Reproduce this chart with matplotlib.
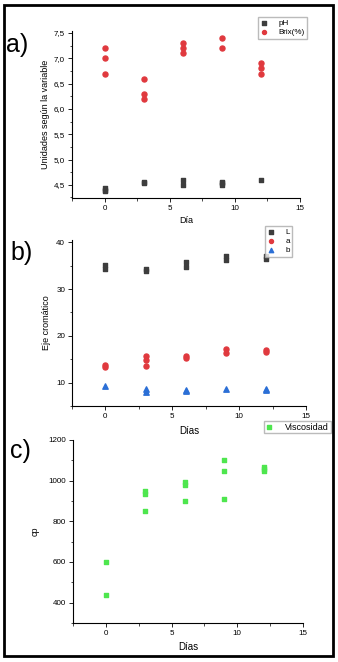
import matplotlib.pyplot as plt
from matplotlib.patches import Rectangle
from matplotlib.ticker import MultipleLocator, FuncFormatter

plt.rcParams['font.family'] = ['Liberation Sans', 'DejaVu Sans']

# datos (día, valor)
dias_ph = [0, 0, 0, 3, 3, 6, 6, 9, 9, 9, 12]
ph = [4.37, 4.40, 4.43, 4.54, 4.55, 4.60, 4.50, 4.50, 4.53, 4.56, 4.60]
dias_brix = [0, 0, 0, 3, 3, 3, 6, 6, 6, 9, 9, 12, 12, 12]
brix = [7.2, 7.0, 6.7, 6.6, 6.3, 6.2, 7.3, 7.2, 7.1, 7.4, 7.2, 6.9, 6.8, 6.7]

dias_L = [0, 0, 3, 3, 6, 6, 9, 9, 12, 12]
L = [35.2, 34.4, 34.3, 33.8, 35.8, 34.7, 37.0, 36.3, 37.0, 36.5]
dias_a = [0, 0, 3, 3, 3, 6, 6, 9, 9, 12, 12]
a = [13.8, 13.4, 15.6, 14.9, 13.6, 15.6, 15.2, 17.2, 16.4, 17.0, 16.5]
dias_b = [0, 3, 3, 6, 6, 9, 12, 12]
b = [9.3, 8.6, 8.1, 8.4, 8.2, 8.6, 8.6, 8.4]

dias_visc = [0, 0, 3, 3, 3, 6, 6, 6, 9, 9, 9, 12, 12, 12]
visc = [600, 439, 950, 934, 852, 991, 978, 901, 1101, 1050, 912, 1069, 1055, 1049]

W, H = 338, 662
fig = plt.figure(figsize=(W / 100, H / 100), dpi=100)

def ejes(x0, y0, x1, y1):
    # coordenadas en pixeles (arriba-izquierda)
    return fig.add_axes([x0 / W, 1 - y1 / H, (x1 - x0) / W, (y1 - y0) / H])

def estilo(ax):
    ax.spines['top'].set_visible(False)
    ax.spines['right'].set_visible(False)
    ax.spines['left'].set_linewidth(0.8)
    ax.spines['bottom'].set_linewidth(0.8)
    ax.set_xlim(-2.5, 15)
    ax.xaxis.set_major_locator(MultipleLocator(5))
    ax.xaxis.set_minor_locator(MultipleLocator(2.5))
    ax.tick_params(which='major', direction='out', length=3, width=0.6, labelsize=5.8, pad=2)
    ax.tick_params(which='minor', direction='out', length=1.8, width=0.5)

coma = FuncFormatter(lambda v, p: f'{v:.1f}'.replace('.', ','))

gris = '#3d3d3d'
rojo = '#e0393e'
azul = '#2b6fd6'
verde = '#4ee64e'

# a)
ax1 = ejes(72, 31, 300, 198)
estilo(ax1)
ax1.scatter(dias_ph, ph, marker='s', s=11, color=gris, label='pH', zorder=3)
ax1.scatter(dias_brix, brix, marker='o', s=13, color=rojo, label='Brix(%)', zorder=3)
ax1.set_ylim(4.24, 7.54)
ax1.yaxis.set_major_locator(MultipleLocator(0.5))
ax1.yaxis.set_minor_locator(MultipleLocator(0.25))
ax1.yaxis.set_major_formatter(coma)
ax1.set_xlabel('Día', fontsize=6.5, labelpad=3)
ax1.set_ylabel('Unidades según la variable', fontsize=6.5, labelpad=3)
ax1.legend(loc='upper left', bbox_to_anchor=(182 / 228, 1.11), fontsize=5.8, frameon=True,
           fancybox=False, edgecolor='#aaaaaa', handletextpad=1.2, borderpad=0.3,
           labelspacing=0.25, markerscale=0.8, handlelength=1.0)

# b)
ax2 = ejes(72, 240, 306, 406)
estilo(ax2)
ax2.scatter(dias_L, L, marker='s', s=11, color=gris, label='L', zorder=3)
ax2.scatter(dias_a, a, marker='o', s=13, color=rojo, label='a', zorder=3)
ax2.scatter(dias_b, b, marker='^', s=15, color=azul, label='b', zorder=3)
ax2.set_ylim(5, 40.5)
ax2.yaxis.set_major_locator(MultipleLocator(10))
ax2.yaxis.set_minor_locator(MultipleLocator(5))
ax2.set_xlabel('Días', fontsize=7, labelpad=4)
ax2.set_ylabel('Eje cromático', fontsize=6.5, labelpad=4)
ax2.legend(loc='upper left', bbox_to_anchor=(189 / 234, 1.11), fontsize=5.8, frameon=True,
           fancybox=False, edgecolor='#aaaaaa', handletextpad=1.4, borderpad=0.3,
           labelspacing=0.2, markerscale=0.8, handlelength=0.8)

# c)
ax3 = ejes(73, 440, 303, 623)
estilo(ax3)
ax3.scatter(dias_visc, visc, marker='s', s=10, color=verde, label='Viscosidad', zorder=3)
ax3.set_ylim(300, 1200)
ax3.yaxis.set_major_locator(MultipleLocator(200))
ax3.yaxis.set_minor_locator(MultipleLocator(100))
ax3.set_xlabel('Días', fontsize=7, labelpad=4)
ax3.set_ylabel('cp', fontsize=6.5, labelpad=6)
ax3.legend(loc='upper left', bbox_to_anchor=(186 / 230, 1.13), fontsize=6.5, frameon=True,
           fancybox=False, edgecolor='#aaaaaa', handletextpad=1.4, borderpad=0.2,
           markerscale=0.8, handlelength=0.8)

# etiquetas de panel
fig.text(6 / W, 1 - 45 / H, 'a)', fontsize=18, va='center')
fig.text(10 / W, 1 - 253 / H, 'b)', fontsize=18, va='center')
fig.text(10 / W, 1 - 451 / H, 'c)', fontsize=18, va='center')

# marco exterior
fig.patches.append(Rectangle((4 / W, 1 - 656 / H), 329 / W, 651 / H, transform=fig.transFigure,
                             fill=False, edgecolor='black', linewidth=2))

fig.savefig('out.png', dpi=100)
